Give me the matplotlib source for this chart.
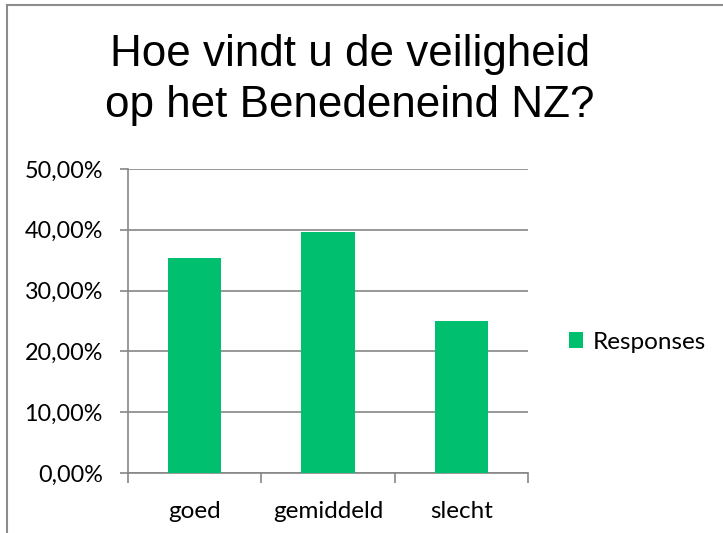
import matplotlib
matplotlib.use("Agg")
import matplotlib.pyplot as plt
from matplotlib.lines import Line2D
from matplotlib.ticker import FuncFormatter, FixedLocator

categories = ["goed", "gemiddeld", "slecht"]
values = [35.42, 39.58, 25.00]
series_name = "Responses"
yticks = [0, 10, 20, 30, 40, 50]

W, H = 723, 533
fig = plt.figure(figsize=(W/100, H/100), dpi=100)
ax = fig.add_axes([128/W, (H-473)/H, 400/W, 304/H])

gray = "#868686"
green = "#00BF6F"
x = list(range(len(categories)))
ax.bar(x, values, width=0.4, color=green, label=series_name, zorder=3)

ax.set_xlim(-0.5, len(categories)-0.5)
ax.set_ylim(0, 50)
ax.set_yticks(yticks)
ax.yaxis.set_major_formatter(FuncFormatter(lambda v, p: f"{v:.2f}".replace(".", ",") + "%"))
ax.grid(axis="y", color=gray, linewidth=1.2, zorder=0)
ax.set_xticks(x)
ax.set_xticklabels(categories)
ax.xaxis.set_minor_locator(FixedLocator([i-0.5 for i in range(len(categories)+1)]))
ax.tick_params(axis="x", which="major", length=0, pad=20)
ax.tick_params(axis="x", which="minor", length=7, width=1.2, color=gray, direction="out")
ax.tick_params(axis="y", length=6, width=1.2, color=gray, pad=12)
for lab in ax.get_xticklabels():
    lab.set_fontfamily("Lato")
    lab.set_fontsize(17.5)
for lab in ax.get_yticklabels():
    lab.set_fontfamily("Lato")
    lab.set_fontsize(16.8)
for s in ["top", "right"]:
    ax.spines[s].set_visible(False)
for s in ["left", "bottom"]:
    ax.spines[s].set_color(gray)
    ax.spines[s].set_linewidth(1.2)

fig.text(350/W, 1-80/H, "Hoe vindt u de veiligheid\nop het Benedeneind NZ?",
         ha="center", va="center", fontsize=31.7, family="Liberation Sans",
         linespacing=1.3)

ax.legend(loc="center left", bbox_to_anchor=(1.0775, 0.43), frameon=False,
          prop={"family": "Lato", "size": 17.5}, handlelength=0.6, handleheight=0.6,
          handletextpad=0.4, borderaxespad=0)

fig.add_artist(Line2D([7/W, 1], [1-5/H, 1-5/H], color="#8c8c8c", linewidth=1.5))
fig.add_artist(Line2D([7/W, 7/W], [0, 1-5/H], color="#8c8c8c", linewidth=1.5))

fig.savefig("out.png", dpi=100)
